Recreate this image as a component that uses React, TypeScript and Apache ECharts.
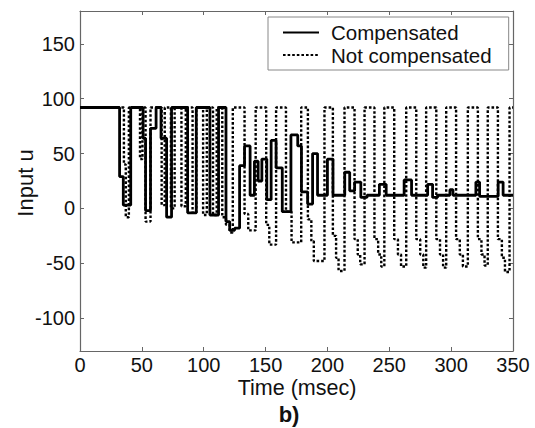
import React, { useEffect, useRef } from "react";
import * as echarts from "echarts";

const FONT = "'Liberation Sans', Arial, Helvetica, sans-serif";

const seriesNames = ["Compensated", "Not compensated"];
const xTicks = { min: 0, max: 350, step: 50 };
const yRange = { min: -130, max: 180 };

// [time (msec), input u] — zero-order-hold steps
const compensated: [number, number][] = [
  [0, 92], [32, 29], [35, 3], [41, 92], [51, 64], [53, -2], [57, 73], [61.5, 92],
  [65.5, 64], [70, -8], [74, 92], [87, -4], [94, 92], [105, -6], [112, 92],
  [118, -12], [121, -20], [125, -18], [129, 39], [133, 57], [137.5, 12], [141, 43],
  [144, 25], [147, 45], [151, 8], [154.5, 62], [158.5, 37], [163.5, -3], [170.5, 67],
  [176, 57], [179, 15], [184, 4], [188, 50], [192, 12], [200, 45], [204.5, 12],
  [214, 33], [218, 16], [222, 24], [227, 10], [232, 12], [242, 22], [247.5, 12],
  [262, 26], [268, 12], [281, 22], [285, 10], [289, 12], [299, 17], [301.5, 12],
  [320, 24], [323, 11], [338, 24], [342, 12], [350, 12],
];

const notCompensated: [number, number][] = [
  [0, 92], [35.5, 40], [37, -8], [39.5, 92], [48.5, 45], [50.5, 92], [53, -12],
  [57, 92], [66, 3], [68.5, 92], [73.5, 0], [76.5, 92], [82, 2], [85.5, 92],
  [91, -4], [94, 92], [99.5, -6], [102.5, 92], [107.5, -6], [110.5, 92], [115, -8],
  [118, -15], [121, -22], [123.5, 92], [133, -5], [136, -20], [142, 92], [150.5, -15],
  [153, -33], [158.5, 92], [166.5, -3], [171, -31], [178.8, 92], [184.2, -10],
  [187, -30], [189, -48], [197.6, 92], [204.4, -25], [207, -45], [209, -57],
  [213.8, 92], [221.9, -28], [224.5, -42], [226.5, -51], [230, 92], [238, -28],
  [241, -42], [243.5, -53], [246, 92], [254, -28], [257, -42], [259.5, -53],
  [263.7, 92], [271.8, -28], [275, -42], [277.5, -54], [279.8, 92], [288, -28],
  [291, -42], [293.5, -54], [296, 92], [304, -28], [307, -42], [309.5, -53],
  [313.5, 92], [321.6, -28], [324.5, -42], [327, -52], [329.6, 92], [337.8, -28],
  [341, -45], [343.5, -58], [347.2, 92], [350, 92],
];

const AXIS_COLOR = "#666";
const TEXT_COLOR = "#111";

export default function App() {
  const ref = useRef<HTMLDivElement>(null);
  useEffect(() => {
    if (!ref.current) return;
    const chart = echarts.init(ref.current, null, { renderer: "svg" });
    const axisCommon = {
      axisLine: { show: true, onZero: false, lineStyle: { color: AXIS_COLOR, width: 1.2 } },
      axisTick: { show: true, inside: true, length: 4, lineStyle: { color: AXIS_COLOR, width: 1 } },
      splitLine: { show: false },
    };
    const xLabel = { color: TEXT_COLOR, fontSize: 20, lineHeight: 20, fontFamily: FONT, margin: 4 };
    const yLabel = {
      color: TEXT_COLOR,
      fontSize: 20,
      fontFamily: FONT,
      margin: 5,
      formatter: (v: number) => (v % 50 === 0 ? String(v) : ""),
    };
    chart.setOption({
      animation: false,
      backgroundColor: "#fff",
      grid: { left: 80, top: 11, width: 433, height: 340, containLabel: false },
      xAxis: [
        { type: "value", position: "bottom", min: xTicks.min, max: xTicks.max, interval: xTicks.step, ...axisCommon, axisLabel: xLabel },
        { type: "value", position: "top", min: xTicks.min, max: xTicks.max, interval: xTicks.step, ...axisCommon, axisLabel: { show: false } },
      ],
      yAxis: [
        { type: "value", position: "left", min: yRange.min, max: yRange.max, splitNumber: 5, ...axisCommon, axisLabel: yLabel },
        { type: "value", position: "right", min: yRange.min, max: yRange.max, splitNumber: 5, ...axisCommon, axisLabel: { show: false } },
      ],
      legend: {
        left: 268,
        top: 17,
        orient: "vertical",
        itemWidth: 36,
        itemHeight: 14,
        itemGap: 1.5,
        padding: [5, 17, 4.5, 14],
        borderColor: "#888",
        borderWidth: 1,
        borderRadius: 0,
        backgroundColor: "#fff",
        itemStyle: { color: "transparent", borderColor: "transparent", borderWidth: 0, opacity: 0 },
        textStyle: { fontSize: 20.5, fontFamily: FONT, color: TEXT_COLOR, lineHeight: 20, padding: [0, 0, 0, 7] },
        data: seriesNames,
      },
      series: [
        {
          name: seriesNames[0],
          type: "line",
          step: "end",
          symbol: "none",
          showSymbol: false,
          data: compensated,
          lineStyle: { color: "#000", width: 2.8, type: "solid" },
          itemStyle: { color: "#000" },
        },
        {
          name: seriesNames[1],
          type: "line",
          step: "end",
          symbol: "none",
          showSymbol: false,
          data: notCompensated,
          lineStyle: { color: "#000", width: 2.4, type: [2.6, 2] },
          itemStyle: { color: "#000" },
        },
      ],
      graphic: [
        {
          type: "text",
          x: 25,
          y: 183,
          rotation: Math.PI / 2,
          style: { text: "Input u", fontSize: 22, fontFamily: FONT, fill: TEXT_COLOR, align: "center", verticalAlign: "middle" },
        },
        {
          type: "text",
          x: 297,
          y: 388,
          style: { text: "Time (msec)", fontSize: 21.5, lineHeight: 21.5, fontFamily: FONT, fill: TEXT_COLOR, align: "center", verticalAlign: "middle" },
        },
        {
          type: "text",
          x: 289,
          y: 414,
          style: { text: "b)", fontSize: 22, fontWeight: "bold", fontFamily: FONT, fill: TEXT_COLOR, align: "center", verticalAlign: "middle" },
        },
      ],
    });
    return () => chart.dispose();
  }, []);
  return (
    <div
      ref={ref}
      style={{ position: "fixed", left: 0, top: 0, width: 535, height: 428, background: "#fff" }}
    />
  );
}
